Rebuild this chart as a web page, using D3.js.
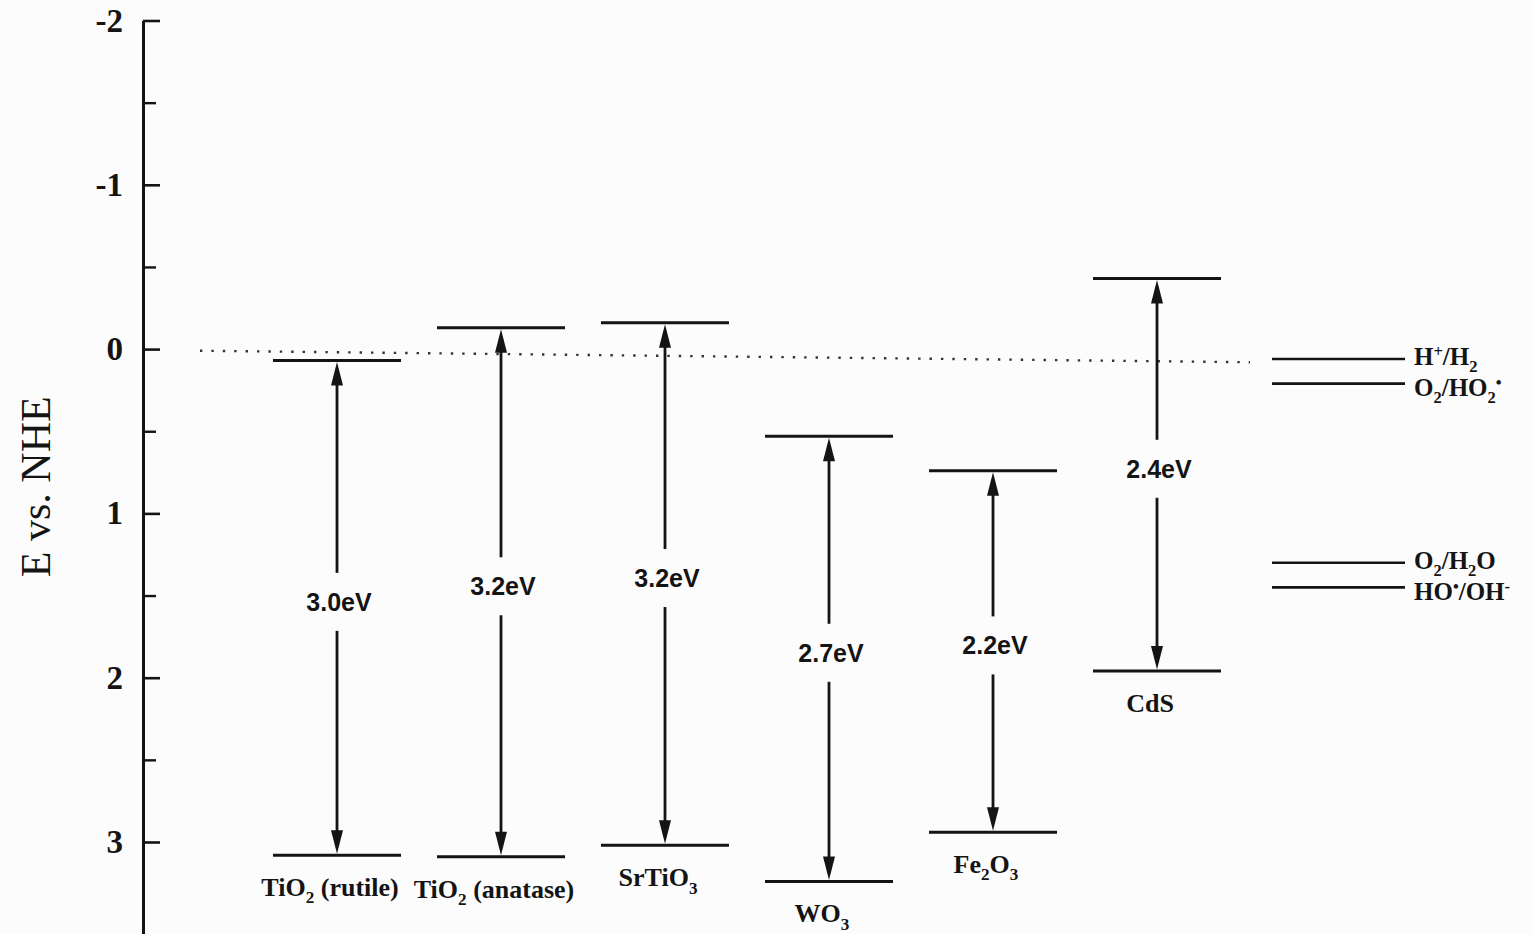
<!DOCTYPE html>
<html>
<head>
<meta charset="utf-8">
<script src="https://cdn.jsdelivr.net/npm/d3@7"></script>
<style>
  html, body { margin: 0; padding: 0; background: #fcfcfc; }
  svg { display: block; }
</style>
</head>
<body>
<svg id="chart" width="1532" height="934"></svg>
<script>
// ---------- data ----------
const materials = ["TiO_2 (rutile)", "TiO_2 (anatase)", "SrTiO_3", "WO_3", "Fe_2O_3", "CdS"];
const conductionBand = [0.07, -0.13, -0.16, 0.53, 0.74, -0.43];   // E vs. NHE (V)
const valenceBand    = [3.08, 3.09, 3.02, 3.24, 2.94, 1.96];
const gapLabels      = ["3.0eV", "3.2eV", "3.2eV", "2.7eV", "2.2eV", "2.4eV"];
const redoxCouples    = ["H^+/H_2", "O_2/HO_2^•", "O_2/H_2O", "HO^•/OH^-"];
const redoxPotentials = [0.06, 0.21, 1.30, 1.45];
const yTicks      = [-2, -1, 0, 1, 2, 3];
const yMinorTicks = [-1.5, -0.5, 0.5, 1.5, 2.5];
const yDomain     = [-2, 3.56];
const zeroGuide   = [0.01, 0.08];   // dotted reference line, E at its left and right ends
const yTitle = "E vs. NHE";

// ---------- layout ----------
const axisX = 143;
const svg = d3.select("#chart");
const ink = "#141414";
const serif = "'Liberation Serif', 'DejaVu Serif', serif";
const sans = "'Liberation Sans', Arial, sans-serif";

const y = d3.scaleLinear().domain(yDomain).range([20.5, 934]);
const x = d3.scalePoint().domain(materials).range([337, 1157]);
const redoxX = x(materials[materials.length - 1]) + 181;
const halfLevel = 64;

// rich text helper: _x subscript, ^x superscript
function richText(textSel, str, fs) {
  const segs = [];
  for (let i = 0; i < str.length; i++) {
    const c = str[i];
    if ((c === "_" || c === "^") && i + 1 < str.length) {
      segs.push({ t: str[i + 1], mode: c === "_" ? "sub" : "sup" });
      i++;
    } else {
      const last = segs[segs.length - 1];
      if (last && last.mode === "n") last.t += c; else segs.push({ t: c, mode: "n" });
    }
  }
  let cur = 0;
  segs.forEach(s => {
    const target = s.mode === "sub" ? fs * 0.28 : s.mode === "sup" ? -fs * 0.3 : 0;
    textSel.append("tspan")
      .attr("dy", target - cur)
      .attr("font-size", s.mode === "n" ? fs : fs * 0.66)
      .text(s.t);
    cur = target;
  });
}

// ---------- axis ----------
const gAxis = svg.append("g").attr("transform", `translate(${axisX},0)`);
gAxis.call(d3.axisLeft(y).tickValues(yTicks).tickSizeInner(-17).tickSizeOuter(0)
  .tickPadding(20).tickFormat(d => d < 0 ? "-" + Math.abs(d) : String(d)));
gAxis.select(".domain").attr("stroke", ink).attr("stroke-width", 3);
gAxis.selectAll(".tick line").attr("stroke", ink).attr("stroke-width", 2.6);
gAxis.selectAll(".tick text")
  .attr("fill", ink).attr("font-family", serif).attr("font-size", 33).attr("font-weight", "bold");

const gMinor = svg.append("g").attr("transform", `translate(${axisX},0)`);
gMinor.call(d3.axisLeft(y).tickValues(yMinorTicks).tickSizeInner(-13).tickSizeOuter(0).tickFormat(""));
gMinor.select(".domain").remove();
gMinor.selectAll(".tick line").attr("stroke", ink).attr("stroke-width", 2.4);

svg.append("text")
  .attr("transform", `translate(50,${(y(0.3) + y(1.4)) / 2 - 2}) rotate(-90)`)
  .attr("text-anchor", "middle")
  .attr("font-family", serif).attr("font-size", 42).attr("fill", ink)
  .text(yTitle);

// ---------- dotted zero line ----------
svg.append("line")
  .attr("x1", 200).attr("x2", 1250)
  .attr("y1", y(zeroGuide[0])).attr("y2", y(zeroGuide[1]))
  .attr("stroke", "#333").attr("stroke-width", 2.4)
  .attr("stroke-dasharray", "2.4,9");

// ---------- band levels ----------
const data = materials.map((m, i) => ({
  name: m, cb: conductionBand[i], vb: valenceBand[i], gap: gapLabels[i]
}));

const g = svg.append("g");
data.forEach(d => {
  const cx = x(d.name);
  const yc = y(d.cb), yv = y(d.vb);
  [yc, yv].forEach(yy => {
    g.append("line").attr("x1", cx - halfLevel).attr("x2", cx + halfLevel)
      .attr("y1", yy).attr("y2", yy)
      .attr("stroke", ink).attr("stroke-width", 3);
  });
  const mid = (yc + yv) / 2 - 6;
  const gapHalf = 29;
  const head = 25, hw = 6;
  g.append("line").attr("x1", cx).attr("x2", cx).attr("y1", yc + head - 2).attr("y2", mid - gapHalf)
    .attr("stroke", ink).attr("stroke-width", 2.8);
  g.append("line").attr("x1", cx).attr("x2", cx).attr("y1", mid + gapHalf).attr("y2", yv - head + 2)
    .attr("stroke", ink).attr("stroke-width", 2.8);
  g.append("path")
    .attr("d", `M${cx},${yc + 1.5} L${cx - hw},${yc + head} L${cx + hw},${yc + head} Z`)
    .attr("fill", ink);
  g.append("path")
    .attr("d", `M${cx},${yv - 1.5} L${cx - hw},${yv - head} L${cx + hw},${yv - head} Z`)
    .attr("fill", ink);
  g.append("text").attr("x", cx + 2).attr("y", mid).attr("dy", "0.36em")
    .attr("text-anchor", "middle")
    .attr("font-family", sans).attr("font-size", 25).attr("font-weight", "bold")
    .attr("fill", ink).text(d.gap);
  const t = g.append("text").attr("x", cx - 7).attr("y", yv + 41)
    .attr("text-anchor", "middle")
    .attr("font-family", serif).attr("font-weight", "bold").attr("fill", ink);
  richText(t, d.name, 26);
});

// ---------- redox couples ----------
let prevLabelY = -Infinity;
redoxCouples.forEach((r, i) => {
  const yy = y(redoxPotentials[i]);
  svg.append("line").attr("x1", redoxX - 66).attr("x2", redoxX + 67)
    .attr("y1", yy).attr("y2", yy).attr("stroke", ink).attr("stroke-width", 2.6);
  const ly = Math.max(yy + 6, prevLabelY + 31);
  prevLabelY = ly;
  const t = svg.append("text").attr("x", redoxX + 76).attr("y", ly)
    .attr("font-family", serif).attr("font-weight", "bold").attr("fill", ink);
  richText(t, r, 25);
});
</script>
</body>
</html>
